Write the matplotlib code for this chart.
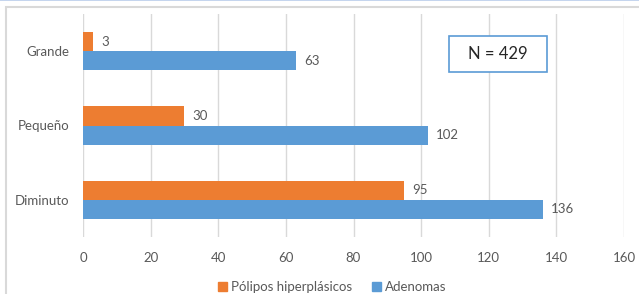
import matplotlib.pyplot as plt
import numpy as np
from matplotlib.patches import Rectangle, Patch

categories = ['Diminuto', 'Pequeño', 'Grande']
hiperplasicos = [95, 30, 3]
adenomas = [136, 102, 63]
series_names = ['Pólipos hiperplásicos', 'Adenomas']
xticks = [0, 20, 40, 60, 80, 100, 120, 140, 160]

orange = '#ED7D31'
blue = '#5B9BD5'
txt = '#595959'

plt.rcParams['font.family'] = ['Lato', 'DejaVu Sans']

fig = plt.figure(figsize=(6.39, 2.94), dpi=100)
ax = fig.add_axes([83 / 639, 57 / 294, 541 / 639, 223 / 294])

# outer frame of the chart area
fig.patches.append(Rectangle((6 / 639, -0.01), 1.0, 1 - 7 / 294 + 0.01,
                             transform=fig.transFigure, fill=False,
                             edgecolor='#d9d9d9', linewidth=1.5))
fig.patches.append(Rectangle((0, 1 - 1 / 294), 1.0, 1 / 294,
                             transform=fig.transFigure, facecolor='#c5d5ee',
                             edgecolor='none'))

y = np.arange(len(categories))
h = 0.26
b1 = ax.barh(y + h / 2, hiperplasicos, height=h, color=orange, zorder=3)
b2 = ax.barh(y - h / 2, adenomas, height=h, color=blue, zorder=3)

for bars in (b1, b2):
    for rect in bars:
        w = rect.get_width()
        ax.annotate(f'{w:.0f}', (w, rect.get_y() + rect.get_height() / 2),
                    xytext=(6, 0), textcoords='offset points',
                    ha='left', va='center', fontsize=9.5, color=txt)

ax.set_xlim(0, 160)
ax.set_ylim(-0.5, len(categories) - 0.5)
ax.set_xticks(xticks)
ax.set_yticks(y)
ax.set_yticklabels(categories)
ax.tick_params(axis='both', length=0, labelsize=9.5, labelcolor=txt)
ax.tick_params(axis='x', pad=11)
ax.tick_params(axis='y', pad=10)
for s in ax.spines.values():
    s.set_visible(False)
ax.grid(axis='x', color='#d9d9d9', linewidth=1, zorder=0)
ax.set_axisbelow(True)

# N box
fig.patches.append(Rectangle((449 / 639, 1 - 72 / 294), 98 / 639, 36 / 294,
                             transform=fig.transFigure, facecolor='white',
                             edgecolor=blue, linewidth=1.2, zorder=5))
fig.text(498 / 639, 1 - 54 / 294, 'N = 429', ha='center', va='center',
         fontsize=12, color='#262626', zorder=6)

handles = [Patch(color=orange), Patch(color=blue)]
fig.legend(handles, series_names, loc='center', bbox_to_anchor=(0.52, 1 - 287 / 294),
           ncol=2, frameon=False, fontsize=9.5, labelcolor=txt,
           handlelength=0.7, handleheight=0.7, handletextpad=0.3, columnspacing=1.5)

fig.savefig('out.png', dpi=100)
